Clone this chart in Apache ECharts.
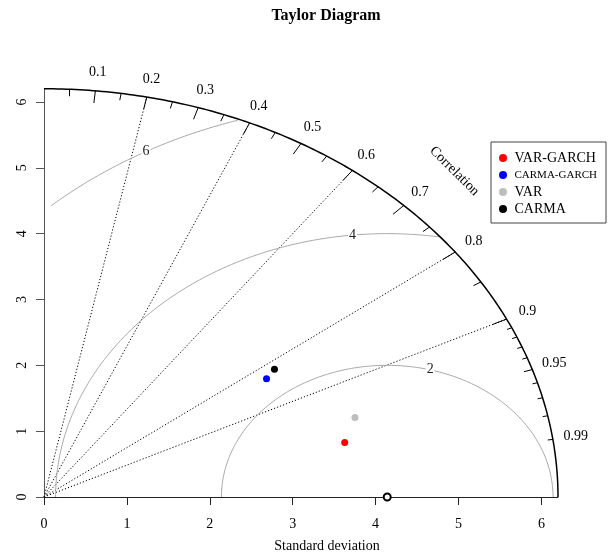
<!DOCTYPE html>
<html>
<head>
<meta charset="utf-8">
<script src="https://cdn.jsdelivr.net/npm/echarts@6/dist/echarts.min.js"></script>
<style>
html, body { margin: 0; padding: 0; background: #fff; }
#chart { width: 610px; height: 556px; }
</style>
</head>
<body>
<div id="chart"></div>
<script>
// model statistics (standard deviation, correlation)
const modelNames = ["VAR-GARCH", "CARMA-GARCH", "VAR", "CARMA"];
const modelSd = [3.72, 3.23, 3.94, 3.39];
const modelCor = [0.975, 0.831, 0.952, 0.820];
const modelColors = ["#ff0000", "#0000ff", "#bebebe", "#000000"];
const refSd = 4.14;
const maxSd = 6.2;
const sdTicks = [0, 1, 2, 3, 4, 5, 6];
const corLines = [0.2, 0.4, 0.6, 0.8, 0.9];
const corLabels = ["0.1", "0.2", "0.3", "0.4", "0.5", "0.6", "0.7", "0.8", "0.9", "0.95", "0.99"];
const bigTicks = [0.1, 0.2, 0.3, 0.4, 0.5, 0.6, 0.7, 0.8, 0.9];
const medTicks = [0.05, 0.15, 0.25, 0.35, 0.45, 0.55, 0.65, 0.75, 0.85, 0.95];
const smallTicks = [0.91, 0.92, 0.93, 0.94, 0.96, 0.97, 0.98, 0.99];
const rmsLevels = [2, 4, 6];
const rmsLabelAngles = [75, 96, 119];

const serif = "Liberation Serif";
const polar = (r, c) => [r * c, r * Math.sqrt(1 - c * c)];

const chart = echarts.init(document.getElementById("chart"));

const arc = [];
for (let a = 0; a <= 90; a += 0.5) {
  const t = a * Math.PI / 180;
  arc.push([maxSd * Math.cos(t), maxSd * Math.sin(t)]);
}

const contourSeries = rmsLevels.map(g => {
  const pts = [];
  for (let a = 0; a <= 180; a += 0.5) {
    const t = a * Math.PI / 180;
    const x = refSd + g * Math.cos(t), y = g * Math.sin(t);
    if (x < 0.08) break;
    if (x * x + y * y > maxSd * maxSd) continue;
    pts.push([x, y]);
  }
  return {
    type: "line", data: pts, showSymbol: false, silent: true, clip: false, z: 2,
    lineStyle: { color: "#a8a8a8", width: 1 }
  };
});

const tickSeg = (list, k) => list.map(c => ({ coords: [polar(maxSd, c), polar(maxSd * k, c)] }));

const corLabelData = corLabels.map(s => ({ value: polar(maxSd * 1.045, Number(s)), name: s }));
const rmsLabelData = rmsLevels.map((g, i) => {
  const t = rmsLabelAngles[i] * Math.PI / 180;
  return { value: [refSd + g * Math.cos(t), g * Math.sin(t)], name: String(g) };
});

const textLabel = (extra) => Object.assign({
  show: true, position: "inside", formatter: p => p.name,
  color: "#000", fontFamily: serif, fontSize: 14
}, extra);

chart.setOption({
  animation: false,
  grid: { left: 44, right: 52, top: 88.8, bottom: 59 },
  xAxis: {
    type: "value", min: 0, max: maxSd,
    axisLine: { lineStyle: { color: "#222", width: 1 } },
    axisTick: { length: 8, customValues: sdTicks, lineStyle: { color: "#222" } },
    axisLabel: { customValues: sdTicks, margin: 20, color: "#000", fontFamily: serif, fontSize: 14 },
    splitLine: { show: false }
  },
  yAxis: {
    type: "value", min: 0, max: maxSd,
    axisLine: { show: true, lineStyle: { color: "#555", width: 1 } },
    axisTick: { show: true, length: 8, customValues: sdTicks, lineStyle: { color: "#555" } },
    axisLabel: { customValues: sdTicks, rotate: 90, margin: 15, color: "#000", fontFamily: serif, fontSize: 14 },
    splitLine: { show: false }
  },
  legend: {
    data: modelNames, orient: "vertical", left: 491, top: 142,
    padding: [9, 9, 7, 8], itemGap: 3, itemWidth: 13, itemHeight: 8, icon: "circle",
    borderColor: "#444", borderWidth: 1,
    textStyle: {
      fontFamily: serif, fontSize: 14, color: "#000", lineHeight: 14,
      rich: { s: { fontFamily: serif, fontSize: 11, color: "#000" } }
    },
    formatter: n => n === "CARMA-GARCH" ? "{s|" + n + "}" : n
  },
  graphic: [
    { type: "text", x: 326, y: 16, style: { text: "Taylor Diagram", font: "bold 16px 'Liberation Serif'", fill: "#000", align: "center", verticalAlign: "middle" } },
    { type: "text", x: 327, y: 546, style: { text: "Standard deviation", font: "14px 'Liberation Serif'", fill: "#000", align: "center", verticalAlign: "middle" } }
  ],
  series: [
    {
      type: "line", data: arc, showSymbol: false, silent: true, clip: false, z: 3,
      lineStyle: { color: "#000", width: 1.5 }
    },
    ...contourSeries,
    {
      type: "lines", coordinateSystem: "cartesian2d", silent: true, z: 2,
      data: corLines.map(c => ({ coords: [[0, 0], polar(maxSd, c)] })),
      lineStyle: { color: "#000", width: 1, type: [1.2, 2], opacity: 1 }
    },
    {
      type: "lines", coordinateSystem: "cartesian2d", silent: true, z: 3,
      data: [...tickSeg(bigTicks, 0.97), ...tickSeg(medTicks, 0.983), ...tickSeg(smallTicks, 0.99)],
      lineStyle: { color: "#000", width: 1, opacity: 1 }
    },
    {
      type: "scatter", data: corLabelData, symbolSize: 0, silent: true, clip: false,
      itemStyle: { opacity: 1 }, label: textLabel({})
    },
    {
      type: "scatter", data: [{ value: polar(7.0, Math.SQRT1_2), name: "Correlation" }], symbolSize: 0, silent: true, clip: false,
      itemStyle: { opacity: 1 }, label: textLabel({ rotate: -45 })
    },
    {
      type: "scatter", data: rmsLabelData, symbolSize: 0, silent: true, clip: false, z: 4,
      itemStyle: { opacity: 1 }, label: textLabel({ color: "#222", backgroundColor: "#fff", padding: [0, 1] })
    },
    {
      type: "scatter", data: [[refSd, 0]], symbol: "emptyCircle", symbolSize: 7, silent: true, clip: false, z: 5,
      itemStyle: { color: "#000", borderWidth: 1, opacity: 1 }
    },
    ...modelNames.map((n, i) => ({
      type: "scatter", name: n, data: [polar(modelSd[i], modelCor[i])], symbolSize: 7, z: 6,
      itemStyle: { color: modelColors[i], opacity: 1 }
    }))
  ]
});
</script>
</body>
</html>
